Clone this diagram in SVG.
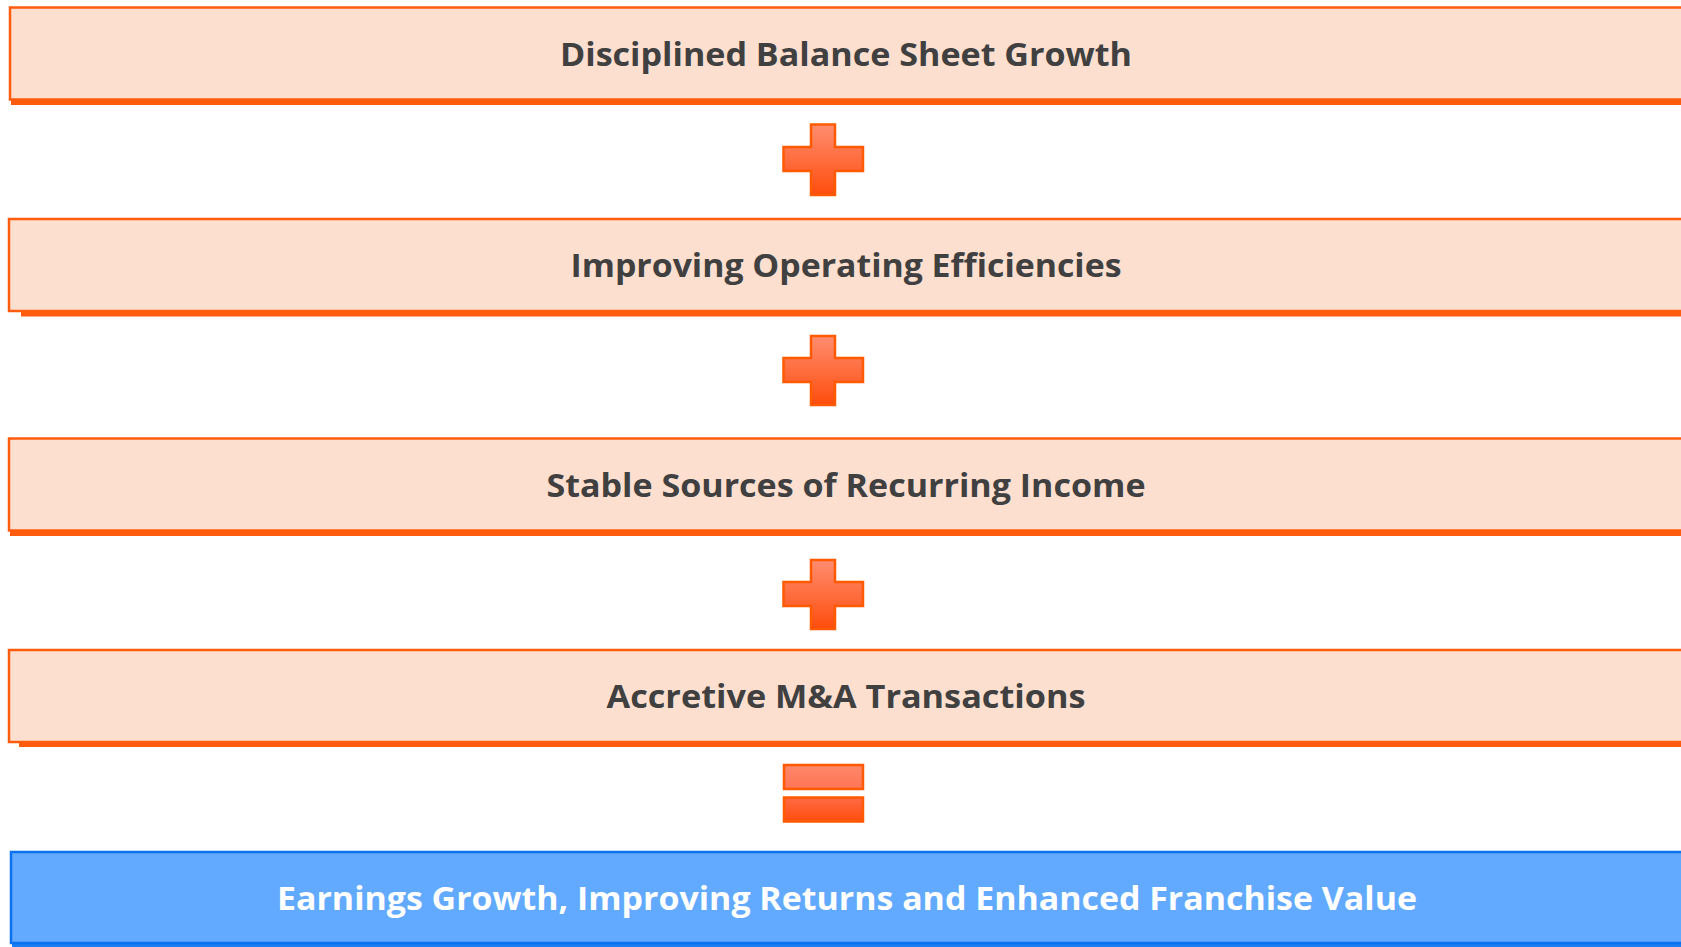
<svg xmlns="http://www.w3.org/2000/svg" width="1681" height="947" viewBox="0 0 1681 947">
<defs>
<linearGradient id="og" x1="0" y1="0" x2="0" y2="1">
<stop offset="0" stop-color="#FF8D70"/>
<stop offset="1" stop-color="#FF4D0C"/>
</linearGradient>
<linearGradient id="og2" x1="0" y1="0" x2="0" y2="1">
<stop offset="0" stop-color="#FF876A"/>
<stop offset="1" stop-color="#FF7455"/>
</linearGradient>
<linearGradient id="og3" x1="0" y1="0" x2="0" y2="1">
<stop offset="0" stop-color="#FF6A45"/>
<stop offset="1" stop-color="#FF4D0C"/>
</linearGradient>
<style>
.box{fill:#FDDFD0;stroke:#FF5C0E;stroke-width:2.5}
.sh{fill:#FF5C0E}
.bbox{fill:#62AAFF;stroke:#0A72F0;stroke-width:2.5}
.bsh{fill:#1A7DF2}
.t{font-family:"Open Sans","Noto Sans",sans-serif;font-weight:bold;font-size:33px;fill:#404040;text-anchor:middle}
.tw{fill:#FFFFFF}
.op{stroke:#FF5A00;stroke-width:2.5;stroke-linejoin:miter}
</style>
</defs>
<rect width="1681" height="947" fill="#FFFFFF"/>
<g id="box1">
<rect class="sh" x="11" y="100" width="1680" height="5"/>
<rect class="box" x="10" y="7.5" width="1690" height="92"/>
<text class="t" x="846" y="66" textLength="572" lengthAdjust="spacingAndGlyphs">Disciplined Balance Sheet Growth</text>
</g>
<g id="plus1">
<path class="op" fill="url(#og)" d="M811,124.5H835V147H863V171H835V195H811V171H783.5V147H811Z"/>
</g>
<g id="box2">
<rect class="sh" x="21" y="311" width="1680" height="5.5"/>
<rect class="box" x="9" y="219" width="1690" height="92"/>
<text class="t" x="846" y="277" textLength="551" lengthAdjust="spacingAndGlyphs">Improving Operating Efficiencies</text>
</g>
<g id="plus2">
<path class="op" fill="url(#og)" d="M811,336H835V358H863V382H835V405H811V382H783.5V358H811Z"/>
</g>
<g id="box3">
<rect class="sh" x="10" y="531" width="1680" height="5"/>
<rect class="box" x="9" y="438.5" width="1690" height="92"/>
<text class="t" x="846" y="497" textLength="599" lengthAdjust="spacingAndGlyphs">Stable Sources of Recurring Income</text>
</g>
<g id="plus3">
<path class="op" fill="url(#og)" d="M811,560H835V582H863V606H835V629H811V606H783.5V582H811Z"/>
</g>
<g id="box4">
<rect class="sh" x="19" y="742" width="1680" height="5"/>
<rect class="box" x="9" y="650" width="1690" height="92"/>
<text class="t" x="846" y="708" textLength="479" lengthAdjust="spacingAndGlyphs">Accretive M&amp;A Transactions</text>
</g>
<g id="equals">
<rect class="op" fill="url(#og2)" x="784" y="765" width="79" height="24"/>
<rect class="op" fill="url(#og3)" x="784" y="797.5" width="79" height="24"/>
</g>
<g id="box5">
<rect class="bsh" x="12" y="943" width="1680" height="4"/>
<rect class="bbox" x="11" y="852" width="1690" height="91"/>
<text class="t tw" x="847" y="910" textLength="1140" lengthAdjust="spacingAndGlyphs">Earnings Growth, Improving Returns and Enhanced Franchise Value</text>
</g>
<g id="connectors"></g>
</svg>
